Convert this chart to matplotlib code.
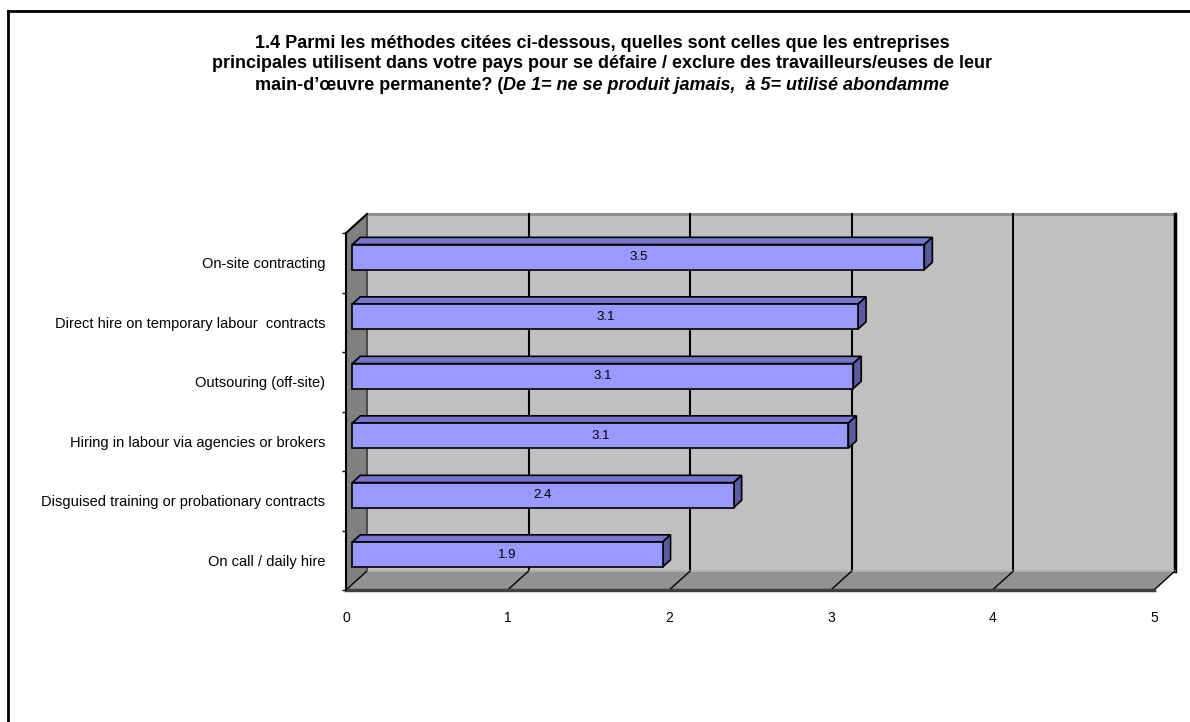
import matplotlib.pyplot as plt
from matplotlib.patches import Polygon
from matplotlib.lines import Line2D
from matplotlib.transforms import IdentityTransform, Affine2D
import numpy as np

plt.rcParams['font.family'] = ['Liberation Sans', 'DejaVu Sans']

# données (du haut vers le bas)
categories = ['On-site contracting',
              'Direct hire on temporary labour  contracts',
              'Outsouring (off-site)',
              'Hiring in labour via agencies or brokers',
              'Disguised training or probationary contracts',
              'On call / daily hire']
values = [3.54, 3.13, 3.10, 3.07, 2.36, 1.92]
xticks = [0, 1, 2, 3, 4, 5]

title1 = '1.4 Parmi les méthodes citées ci-dessous, quelles sont celles que les entreprises'
title2 = 'principales utilisent dans votre pays pour se défaire / exclure des travailleurs/euses de leur'
title3a = 'main-d\u2019œuvre permanente? ('
title3b = 'De 1= ne se produit jamais,  à 5= utilisé abondamme'

W, H = 1190, 722
fig = plt.figure(figsize=(W / 100, H / 100), dpi=100)
ax = fig.add_axes([346 / W, 132 / H, 808 / W, 357 / H])
n = len(categories)
ax.set_xlim(0, 5)
ax.set_ylim(0, n)
ax.set_autoscale_on(False)
ax.patch.set_visible(False)
for s in ax.spines.values():
    s.set_visible(False)

DX, DY = 21, 19  # profondeur 3D en pixels


def proj(x, y, z):
    p = ax.transData.transform((x, y))
    return (p[0] + DX * z, p[1] + DY * z)


def face(pts, **kw):
    ax.add_patch(Polygon([proj(*p) for p in pts], closed=True,
                         transform=IdentityTransform(), clip_on=False, **kw))


def seg(p0, p1, **kw):
    a, b = proj(*p0), proj(*p1)
    ax.add_line(Line2D([a[0], b[0]], [a[1], b[1]], transform=IdentityTransform(),
                       clip_on=False, **kw))


xmax = xticks[-1]
# mur du fond
face([(0, 0, 1), (xmax, 0, 1), (xmax, n, 1), (0, n, 1)], fc='#c0c0c0', ec='none', zorder=1)
seg((0, n, 1), (xmax, n, 1), color='#8c8c8c', lw=2, zorder=2)
for k in xticks[1:-1]:
    seg((k, 0, 1), (k, n, 1), color='black', lw=1.5, zorder=2)
seg((xmax, 0, 1), (xmax, n, 1), color='black', lw=2.5, zorder=2)
# mur gauche
face([(0, 0, 0), (0, n, 0), (0, n, 1), (0, 0, 1)], fc='#808080', ec='none', zorder=1.5)
seg((0, 0, 1), (0, n, 1), color='#3a3a3a', lw=1.2, zorder=2)
seg((0, n, 0), (0, n, 1), color='black', lw=1.5, zorder=2)
# sol
face([(0, 0, 0), (xmax, 0, 0), (xmax, 0, 1), (0, 0, 1)], fc='#929292', ec='none', zorder=1.5)
seg((0, 0, 1), (xmax, 0, 1), color='#b0b0b0', lw=1.5, zorder=2)
for k in xticks:
    seg((k, 0, 0), (k, 0, 1), color='black', lw=1, zorder=2.2)
seg((0, 0, 0), (xmax, 0, 0), color='#404040', lw=2.5, zorder=2.5)
seg((0, 0, 0), (0, n, 0), color='black', lw=1.5, zorder=2.5)

# barres 3D
h = 0.42
z0, z1 = 0.3, 0.68
for i, (cat, v) in enumerate(zip(categories, values)):
    yc = n - 1 - i + 0.5
    y0, y1 = yc - h / 2, yc + h / 2
    face([(0, y1, z0), (v, y1, z0), (v, y1, z1), (0, y1, z1)],
         fc='#7676cc', ec='black', lw=1.2, zorder=3)
    face([(v, y0, z0), (v, y0, z1), (v, y1, z1), (v, y1, z0)],
         fc='#5a5aa0', ec='black', lw=1.2, zorder=3)
    face([(0, y0, z0), (v, y0, z0), (v, y1, z0), (0, y1, z0)],
         fc='#9999ff', ec='black', lw=1.2, zorder=4)
    ax.text(v / 2, yc, f'{v:.1f}', ha='center', va='center', fontsize=9.5,
            transform=ax.transData + Affine2D().translate(DX * z0, DY * z0), zorder=5)

# axes
centers = [n - 1 - i + 0.5 for i in range(n)]
ax.set_yticks(centers, categories, fontsize=10.5)
ax.set_yticks(np.arange(0, n + 1), minor=True)
ax.tick_params(axis='y', which='major', length=0, pad=15)
ax.tick_params(axis='y', which='minor', length=3, width=1, color='black', direction='out')
ax.set_xticks(xticks, [str(k) for k in xticks], fontsize=10)
ax.tick_params(axis='x', length=0, pad=15)

# titre
fs = 13
tk = dict(ha='center', va='center', fontsize=fs, fontweight='bold')
cx = 0.506
fig.text(cx, 1 - 43 / H, title1, **tk)
fig.text(cx, 1 - 64 / H, title2, **tk)
r = fig.canvas.get_renderer()
ta = fig.text(0, 1 - 85 / H, title3a, ha='left', va='center', fontsize=fs, fontweight='bold')
tb = fig.text(0, 1 - 85 / H, title3b, ha='left', va='center', fontsize=fs,
              fontweight='bold', fontstyle='italic')
wa = ta.get_window_extent(r).width / W
wb = tb.get_window_extent(r).width / W
ta.set_x(cx - (wa + wb) / 2)
tb.set_x(cx - (wa + wb) / 2 + wa)

# cadre
fig.add_artist(Line2D([8 / W, 1], [1 - 11 / H, 1 - 11 / H], transform=fig.transFigure,
                      color='black', lw=2))
fig.add_artist(Line2D([8 / W, 8 / W], [0, 1 - 11 / H], transform=fig.transFigure,
                      color='black', lw=2))

fig.savefig('out.png', dpi=100)
